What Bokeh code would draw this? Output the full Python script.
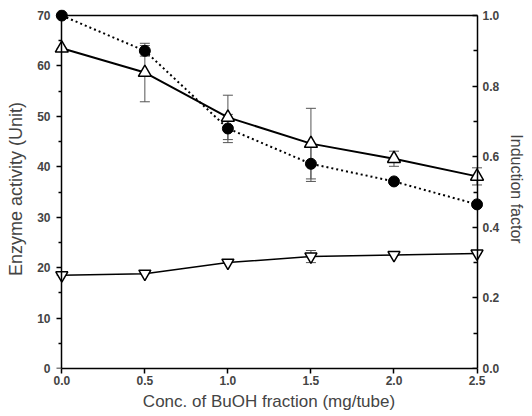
from bokeh.plotting import figure
from bokeh.models import (Range1d, LinearAxis, Whisker, ColumnDataSource, TeeHead,
                          FixedTicker, PrintfTickFormatter)
from bokeh.embed import file_html
from bokeh.resources import INLINE

conc = [0.0, 0.5, 1.0, 1.5, 2.0, 2.5]
enzyme_up = [63.5, 58.7, 49.8, 44.6, 41.6, 38.1]
enzyme_up_err = [0.0, 5.8, 4.4, 7.0, 1.5, 1.7]
enzyme_down = [18.5, 18.8, 21.0, 22.2, 22.5, 22.8]
enzyme_down_err = [0.0, 0.0, 0.0, 1.2, 0.0, 0.0]
induction = [1.0, 0.90, 0.68, 0.58, 0.53, 0.465]
induction_err = [0.0, 0.015, 0.04, 0.05, 0.0, 0.0]

left_ticks = [0, 10, 20, 30, 40, 50, 60, 70]
left_minor = [5, 15, 25, 35, 45, 55, 65]
right_ticks = [0.0, 0.2, 0.4, 0.6, 0.8, 1.0]
right_minor = [0.1, 0.3, 0.5, 0.7, 0.9]
x_ticks = [0.0, 0.5, 1.0, 1.5, 2.0, 2.5]

FONT = "Liberation Sans"
X_MIN, X_MAX = 0.0, 2.5
Y_MAX, R_MAX = 70.0, 1.0
X_PAD_L, X_PAD_R, Y_PAD = 0.05, 0.045, 1.2

p = figure(width=532, height=416, output_backend="svg", toolbar_location=None,
           x_range=Range1d(X_MIN - X_PAD_L, X_MAX + X_PAD_R),
           y_range=Range1d(0, Y_MAX + Y_PAD),
           x_axis_location=None, y_axis_location=None,
           min_border_left=53, min_border_right=48, min_border_top=9, min_border_bottom=48)
p.extra_y_ranges = {"ind": Range1d(0, R_MAX * (Y_MAX + Y_PAD) / Y_MAX)}
p.grid.visible = False
p.outline_line_color = None


def style_labels(ax, label_size):
    ax.major_label_text_font = FONT
    ax.major_label_text_font_style = "bold"
    ax.major_label_text_font_size = "12px"
    ax.axis_label_text_font = FONT
    ax.axis_label_text_font_style = "normal"
    ax.axis_label_text_font_size = label_size


def lines_only(ax):
    ax.axis_line_width = 1.5
    ax.major_tick_line_width = 1.5
    ax.minor_tick_line_width = 1.5
    ax.major_label_text_color = None
    ax.major_label_text_font_size = "0px"
    ax.major_label_standoff = 0


def labels_only(ax, label_size):
    ax.axis_line_color = None
    ax.major_tick_line_color = None
    ax.minor_tick_line_color = None
    ax.major_tick_in = 0
    ax.major_tick_out = 0
    ax.minor_tick_in = 0
    ax.minor_tick_out = 0
    style_labels(ax, label_size)


# bottom axis (frame bottom is y = 0)
bax = LinearAxis(ticker=FixedTicker(ticks=x_ticks), formatter=PrintfTickFormatter(format="%.1f"),
                 axis_label="Conc. of BuOH fraction (mg/tube)", bounds=(X_MIN, X_MAX))
bax.axis_line_width = 1.5
bax.major_tick_line_width = 1.5
bax.major_tick_in = 0
bax.major_tick_out = 5
bax.major_label_standoff = 2
bax.axis_label_standoff = 4
style_labels(bax, "17px")
p.add_layout(bax, "below")

# left: labels in the panel, line + ticks at x = 0
lax_lab = LinearAxis(ticker=FixedTicker(ticks=left_ticks), axis_label="Enzyme activity (Unit)")
labels_only(lax_lab, "18px")
lax_lab.major_label_standoff = 3
lax_lab.axis_label_standoff = 8
p.add_layout(lax_lab, "left")

lax = LinearAxis(ticker=FixedTicker(ticks=left_ticks, minor_ticks=left_minor),
                 bounds=(0, Y_MAX), fixed_location=X_MIN)
lines_only(lax)
lax.major_tick_in = 0
lax.major_tick_out = 5
lax.minor_tick_in = 0
lax.minor_tick_out = 3
p.add_layout(lax, "left")

# right: labels in the panel, line + ticks at x = 2.5
rax_lab = LinearAxis(y_range_name="ind", axis_label="Induction factor",
                     ticker=FixedTicker(ticks=right_ticks),
                     formatter=PrintfTickFormatter(format="%.1f"))
labels_only(rax_lab, "16px")
rax_lab.major_label_standoff = -2
rax_lab.axis_label_standoff = 6
p.add_layout(rax_lab, "right")

rax = LinearAxis(y_range_name="ind", ticker=FixedTicker(ticks=right_ticks, minor_ticks=right_minor),
                 bounds=(0, R_MAX), fixed_location=X_MAX)
lines_only(rax)
rax.major_tick_in = 5
rax.major_tick_out = 0
rax.minor_tick_in = 4
rax.minor_tick_out = 0
p.add_layout(rax, "right")

# top border line at y = 70
tax = LinearAxis(ticker=FixedTicker(ticks=[]), bounds=(X_MIN, X_MAX), fixed_location=Y_MAX)
lines_only(tax)
tax.major_tick_in = 0
tax.major_tick_out = 0
p.add_layout(tax, "above")

src_up = ColumnDataSource(dict(x=conc, y=enzyme_up,
                               lo=[a - b for a, b in zip(enzyme_up, enzyme_up_err)],
                               hi=[a + b for a, b in zip(enzyme_up, enzyme_up_err)]))
src_dn = ColumnDataSource(dict(x=conc, y=enzyme_down,
                               lo=[a - b for a, b in zip(enzyme_down, enzyme_down_err)],
                               hi=[a + b for a, b in zip(enzyme_down, enzyme_down_err)]))
src_ind = ColumnDataSource(dict(x=conc, y=induction,
                                lo=[a - b for a, b in zip(induction, induction_err)],
                                hi=[a + b for a, b in zip(induction, induction_err)]))

p.line("x", "y", source=src_ind, y_range_name="ind", line_color="black", line_width=2, line_dash="2 3")
p.line("x", "y", source=src_up, line_color="black", line_width=2)
p.line("x", "y", source=src_dn, line_color="black", line_width=1.5)

for src, rn in ((src_up, "default"), (src_dn, "default"), (src_ind, "ind")):
    w = Whisker(base="x", lower="lo", upper="hi", source=src, y_range_name=rn,
                line_color="#555555", line_width=1,
                lower_head=TeeHead(size=10, line_color="#555555", line_width=1),
                upper_head=TeeHead(size=10, line_color="#555555", line_width=1))
    p.add_layout(w)

p.scatter("x", "y", source=src_ind, y_range_name="ind", marker="circle", size=11,
          fill_color="black", line_color="black")
p.scatter("x", "y", source=src_up, marker="triangle", size=13,
          fill_color="white", line_color="black", line_width=1.5)
p.scatter("x", "y", source=src_dn, marker="inverted_triangle", size=12,
          fill_color="white", line_color="black", line_width=1.5)

open("out.html", "w").write(file_html(p, INLINE))
